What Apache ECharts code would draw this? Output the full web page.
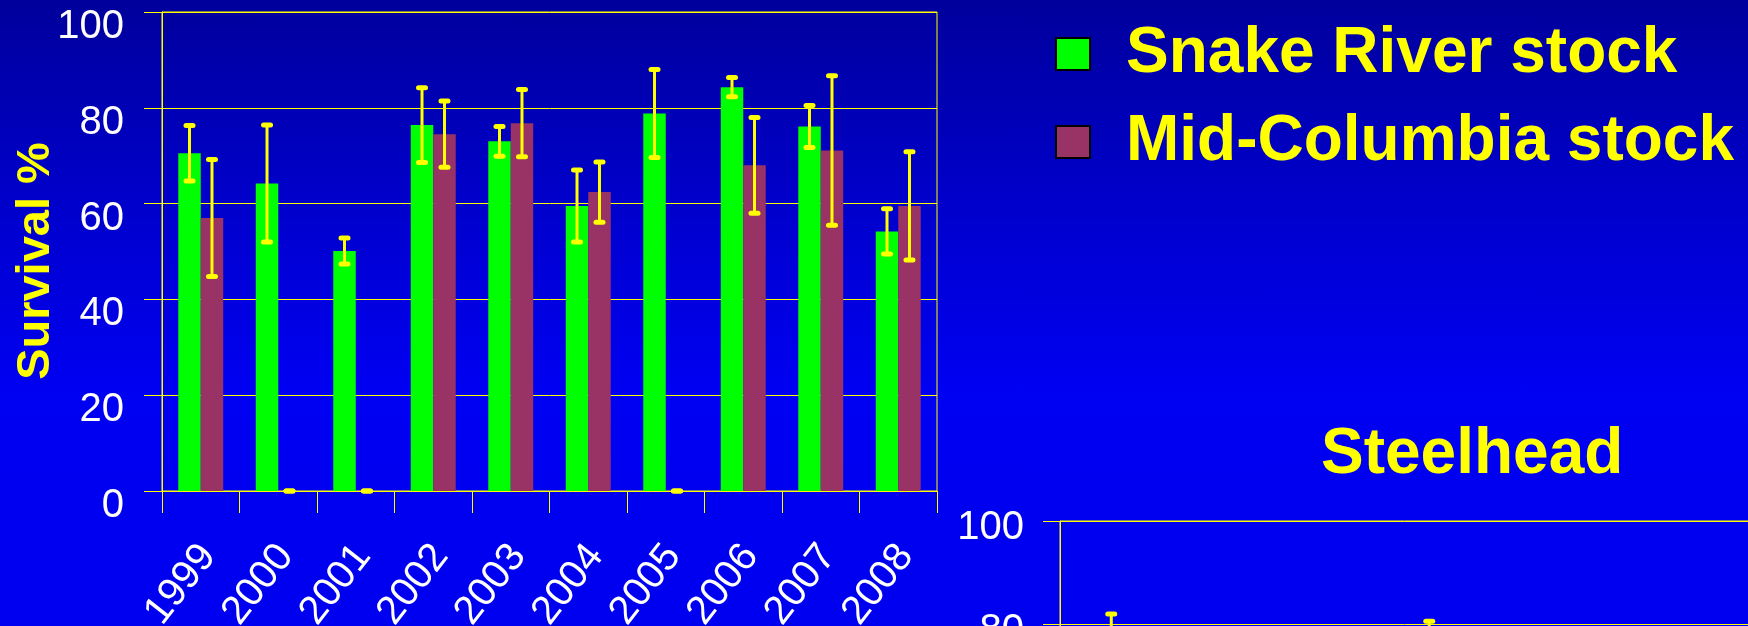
<!DOCTYPE html>
<html>
<head>
<meta charset="utf-8">
<script src="https://cdn.jsdelivr.net/npm/echarts@6/dist/echarts.min.js"></script>
<style>
  html, body { margin: 0; padding: 0; }
  #chart {
    width: 1748px; height: 626px;
    background: linear-gradient(to bottom, #00009C 0%, #0000C8 30%, #0000F2 62%, #0000F0 100%);
  }
</style>
</head>
<body>
<div id="chart"></div>
<script>
// ---- data ----
const years = ['1999', '2000', '2001', '2002', '2003', '2004', '2005', '2006', '2007', '2008'];
const snakeRiver    = [70.5, 64.2, 50.1, 76.4, 73.0, 59.5, 78.8, 84.3, 76.1, 54.2];
const snakeRiverErr = [5.8, 12.2, 2.7, 7.8, 3.1, 7.5, 9.2, 2.0, 4.4, 4.7];
const midColumbia    = [57.0, 0, 0, 74.5, 76.8, 62.4, 0, 68.0, 71.1, 59.5];
const midColumbiaErr = [12.2, 0, 0, 6.9, 7.0, 6.3, 0, 10.0, 15.6, 11.3];
const yTickValues = [0, 20, 40, 60, 80, 100];
// Steelhead panel (only the tops of two error bars are visible in the picture)
const steelheadMidColumbiaUpper = [82.0, null, null, null, 80.6, null, null, null, null, null];

const seriesNames = ['Snake River stock', 'Mid-Columbia stock'];
const FONT = '"Liberation Sans", Arial, Helvetica, sans-serif';
const YELLOW = '#FFFF00';
const CAT_GAP = 0.42;

function errorBars(side) {
  return function (params, api) {
    const i = api.value(0), v = api.value(1), e = api.value(2);
    const catW = api.size([1, 0])[0];
    const barW = catW * (1 - CAT_GAP) / 2;
    const hi = api.coord([i, v + e]);
    const lo = api.coord([i, v - e]);
    const x = hi[0] + side * barW / 2;
    const c = 3.5;
    return {
      type: 'group',
      children: [
        { type: 'line', shape: { x1: x, y1: hi[1], x2: x, y2: lo[1] }, style: { stroke: YELLOW, lineWidth: 3 } },
        { type: 'line', shape: { x1: x - c, y1: hi[1], x2: x + c, y2: hi[1] }, style: { stroke: YELLOW, lineWidth: 5, lineCap: 'round' } },
        { type: 'line', shape: { x1: x - c, y1: lo[1], x2: x + c, y2: lo[1] }, style: { stroke: YELLOW, lineWidth: 5, lineCap: 'round' } }
      ]
    };
  };
}

function steelheadBars(params, api) {
  const i = api.value(0), up = api.value(1);
  const catW = api.size([1, 0])[0];
  const barW = catW * (1 - CAT_GAP) / 2;
  const hi = api.coord([i, up]);
  const lo = api.coord([i, yTickValues[0]]);
  const x = hi[0] + barW / 2;
  const c = 3.5;
  return {
    type: 'group',
    children: [
      { type: 'line', shape: { x1: x, y1: hi[1], x2: x, y2: lo[1] }, style: { stroke: YELLOW, lineWidth: 3 } },
      { type: 'line', shape: { x1: x - c, y1: hi[1], x2: x + c, y2: hi[1] }, style: { stroke: YELLOW, lineWidth: 5, lineCap: 'round' } }
    ]
  };
}

const yMin = yTickValues[0], yMax = yTickValues[yTickValues.length - 1];
const yStep = yTickValues[1] - yTickValues[0];

const chart = echarts.init(document.getElementById('chart'), null, { renderer: 'canvas' });

chart.setOption({
  backgroundColor: 'transparent',
  animation: false,
  textStyle: { fontFamily: FONT },
  title: {
    text: 'Steelhead',
    left: 1321, top: 423, padding: 0,
    textStyle: { color: YELLOW, fontSize: 64, fontWeight: 'bold', fontFamily: FONT, lineHeight: 64 }
  },
  legend: {
    data: seriesNames,
    orient: 'vertical',
    left: 1055, top: 16, padding: 0, itemGap: 12,
    itemWidth: 34, itemHeight: 32, icon: 'rect',
    selectedMode: false,
    itemStyle: { borderColor: '#000000', borderWidth: 2 },
    textStyle: { color: YELLOW, fontSize: 64, fontWeight: 'bold', fontFamily: FONT, lineHeight: 64, padding: [0, 0, 12, 31] }
  },
  graphic: [{
    type: 'text',
    x: 36, y: 261, rotation: Math.PI / 2,
    style: { text: 'Survival %', fill: YELLOW, font: 'bold 47px ' + FONT, align: 'center', verticalAlign: 'middle' }
  }],
  grid: [
    { left: 162, top: 12, width: 775, height: 479, outerBoundsMode: 'none', containLabel: false,
      show: true, borderColor: YELLOW, borderWidth: 1, backgroundColor: 'transparent' },
    { left: 1060, top: 521, width: 795, height: 517, outerBoundsMode: 'none', containLabel: false,
      show: true, borderColor: YELLOW, borderWidth: 1, backgroundColor: 'transparent' }
  ],
  xAxis: [
    {
      type: 'category', gridIndex: 0, data: years,
      axisLine: { show: true, lineStyle: { color: YELLOW, width: 1 } },
      axisTick: { show: true, length: 22, lineStyle: { color: YELLOW, width: 1 } },
      axisLabel: { interval: 0, rotate: 52, margin: 68, padding: [0, -12, 0, 0],
                   color: '#FFFFFF', fontSize: 40, fontFamily: FONT, hideOverlap: false }
    },
    {
      type: 'category', gridIndex: 1, data: years,
      axisLine: { show: true, lineStyle: { color: YELLOW } },
      axisTick: { show: false }, axisLabel: { show: false }
    }
  ],
  yAxis: [
    {
      type: 'value', gridIndex: 0, min: yMin, max: yMax, interval: yStep,
      axisLine: { show: true, lineStyle: { color: YELLOW, width: 1 } },
      axisTick: { show: true, length: 18, lineStyle: { color: YELLOW, width: 1 } },
      splitLine: { show: true, lineStyle: { color: YELLOW, width: 1 } },
      axisLabel: { color: '#FFFFFF', fontSize: 40, fontFamily: FONT, margin: 38, verticalAlign: 'top', lineHeight: 30 }
    },
    {
      type: 'value', gridIndex: 1, min: yMin, max: yMax, interval: yStep,
      axisLine: { show: true, lineStyle: { color: YELLOW, width: 1 } },
      axisTick: { show: true, length: 17, lineStyle: { color: YELLOW, width: 1 } },
      splitLine: { show: true, lineStyle: { color: YELLOW, width: 1 } },
      axisLabel: { color: '#FFFFFF', fontSize: 40, fontFamily: FONT, margin: 36, verticalAlign: 'top', lineHeight: 14 }
    }
  ],
  series: [
    {
      name: seriesNames[0], type: 'bar', xAxisIndex: 0, yAxisIndex: 0,
      data: snakeRiver, barGap: 0, barCategoryGap: (CAT_GAP * 100) + '%',
      itemStyle: { color: '#00FF00' }
    },
    {
      name: seriesNames[1], type: 'bar', xAxisIndex: 0, yAxisIndex: 0,
      data: midColumbia, barGap: 0, barCategoryGap: (CAT_GAP * 100) + '%',
      itemStyle: { color: '#993366' }
    },
    {
      type: 'custom', xAxisIndex: 0, yAxisIndex: 0, z: 5,
      renderItem: errorBars(-1),
      data: years.map((y, i) => [i, snakeRiver[i], snakeRiverErr[i]])
    },
    {
      type: 'custom', xAxisIndex: 0, yAxisIndex: 0, z: 5,
      renderItem: errorBars(1),
      data: years.map((y, i) => [i, midColumbia[i], midColumbiaErr[i]])
    },
    {
      type: 'custom', xAxisIndex: 1, yAxisIndex: 1, z: 5,
      renderItem: steelheadBars,
      data: steelheadMidColumbiaUpper.map((v, i) => [i, v]).filter(d => d[1] !== null)
    }
  ]
});
</script>
</body>
</html>
